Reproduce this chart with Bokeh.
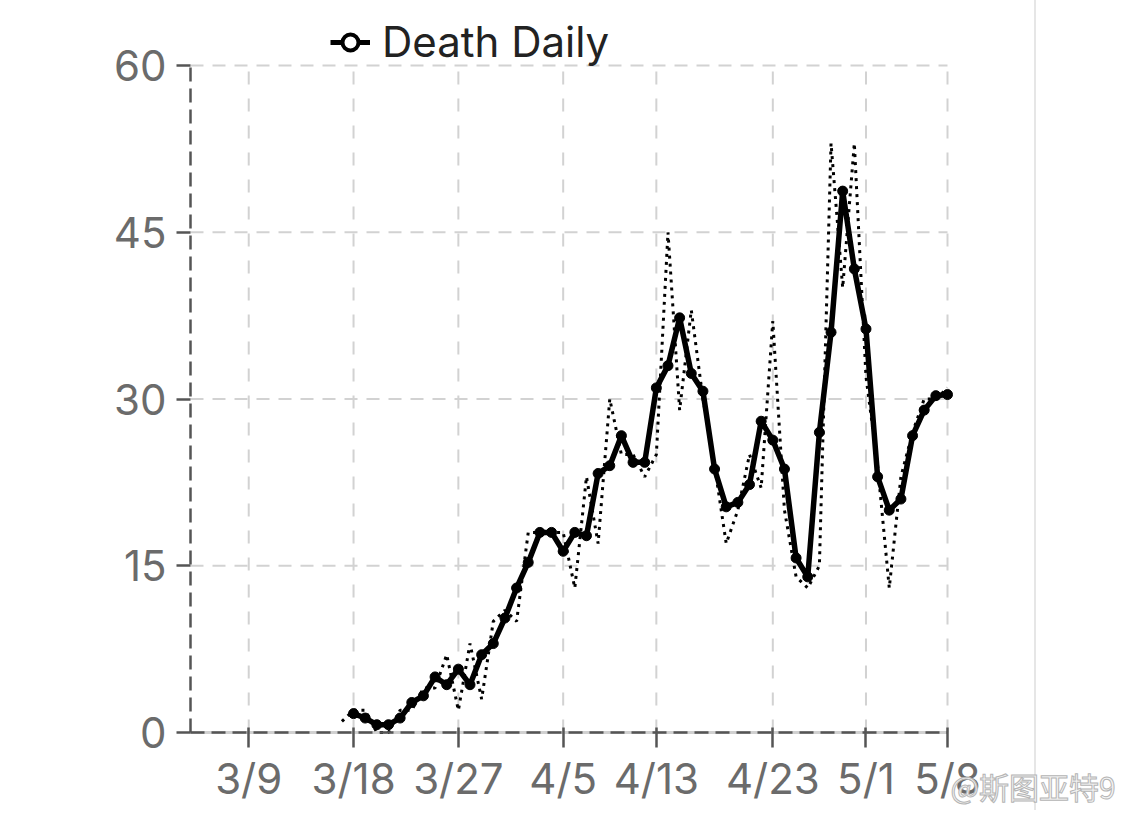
import pandas as pd
from bokeh.plotting import figure
from bokeh.models import (Range1d, FixedTicker, CustomJSTickFormatter, Legend,
                          LegendItem, Label, ColumnDataSource)
from bokeh.embed import file_html
from bokeh.resources import INLINE

# smoothed daily deaths (3-day centred average), one value per day from 3/18
avg_start = "2020-03-18"
death_avg = [1.7, 1.3, 0.7, 0.7, 1.3, 2.7, 3.3, 5.0, 4.3, 5.7, 4.3, 7.0, 8.0, 10.3,
             13.0, 15.3, 18.0, 18.0, 16.3, 18.0, 17.7, 23.3, 24.0, 26.7, 24.3, 24.3,
             31.0, 33.0, 37.3, 32.3, 30.7, 23.7, 20.3, 20.7, 22.3, 28.0, 26.3, 23.7,
             15.7, 14.0, 27.0, 36.0, 48.7, 41.7, 36.3,
             23.0, 20.0, 21.0, 26.7, 29.0, 30.3, 30.4]

# raw daily deaths (dotted), one value per day from 3/17
raw_start = "2020-03-17"
death_raw = [1, 2, 2, 0, 0, 2, 2, 4, 4, 7, 2, 8, 3, 10, 11,
             10, 18, 18, 18, 18, 13, 23, 17, 30, 25, 25, 23, 25, 45, 29, 38, 30,
             24, 17, 20, 25, 22, 37, 20, 14, 13, 15, 53, 40, 53,
             32, 24, 13, 23, 27, 30, 30, 31]

tick_dates = ["2020-03-09", "2020-03-18", "2020-03-27", "2020-04-05",
              "2020-04-13", "2020-04-23", "2020-05-01", "2020-05-08"]
y_ticks = [0, 15, 30, 45, 60]

avg_dates = pd.date_range(avg_start, periods=len(death_avg), freq="D")
raw_dates = pd.date_range(raw_start, periods=len(death_raw), freq="D")
tick_ms = [pd.Timestamp(d).value // 10**6 for d in tick_dates]

FONT = "Inter"
GRID = "#d2d2d2"
AXIS = "#555555"

# the frame fills the canvas; the chart area sits inside it with fixed axes
W, H = 1117, 810
LEFT, RIGHT, TOP, BOTTOM = 190, 170, 65, 78
x_lo, x_hi = pd.Timestamp("2020-03-04"), pd.Timestamp("2020-05-08")
y_lo, y_hi = 0, 60
day_px = (W - LEFT - RIGHT) / ((x_hi - x_lo) / pd.Timedelta(days=1))
val_px = (H - TOP - BOTTOM) / (y_hi - y_lo)
x_range = Range1d(x_lo - pd.Timedelta(days=LEFT / day_px), x_hi + pd.Timedelta(days=RIGHT / day_px))
y_range = Range1d(y_lo - BOTTOM / val_px, y_hi + TOP / val_px)
x_lo_ms, x_hi_ms = x_lo.value // 10**6, x_hi.value // 10**6

p = figure(width=W, height=H, x_axis_type="datetime", x_range=x_range, y_range=y_range,
           output_backend="svg", toolbar_location=None,
           min_border=0, min_border_left=0, min_border_right=0,
           min_border_top=0, min_border_bottom=0)
p.outline_line_color = None
p.background_fill_alpha = 0
p.border_fill_color = None
p.styles = {"background-image": "linear-gradient(90deg, transparent 1034px, #e6e6e6 1034px, "
                                "#e6e6e6 1036px, transparent 1036px)"}
p.xgrid.visible = False
p.ygrid.visible = False

p.xaxis.ticker = FixedTicker(ticks=tick_ms)
p.xaxis.formatter = CustomJSTickFormatter(code="""
    const d = new Date(tick);
    return (d.getUTCMonth() + 1) + "/" + d.getUTCDate();
""")
p.yaxis.ticker = FixedTicker(ticks=y_ticks)
p.xaxis.fixed_location = y_lo
p.yaxis.fixed_location = x_lo_ms
p.xaxis.bounds = (x_lo_ms, x_hi_ms)
p.yaxis.bounds = (y_lo, y_hi)

for ax in (p.xaxis, p.yaxis):
    ax.axis_line_color = AXIS
    ax.axis_line_width = 2.5
    ax.axis_line_dash = "14 7"
    ax.major_tick_line_color = AXIS
    ax.major_tick_line_width = 2.5
    ax.minor_tick_line_color = None
    ax.major_label_text_font = FONT
    ax.major_label_text_font_size = "42px"
    ax.major_label_text_color = "#6b6b6b"
p.xaxis.major_tick_in = 5
p.xaxis.major_tick_out = 15
p.xaxis.major_label_standoff = 5
p.yaxis.major_tick_in = 0
p.yaxis.major_tick_out = 14
p.yaxis.major_label_standoff = 10

# grid lines limited to the chart area
vgrid = ColumnDataSource(dict(x=tick_ms, y0=[y_lo] * len(tick_ms), y1=[y_hi] * len(tick_ms)))
p.segment(x0="x", y0="y0", x1="x", y1="y1", source=vgrid,
          line_color=GRID, line_width=2, line_dash="13 14")
hgrid = ColumnDataSource(dict(y=y_ticks[1:], x0=[x_lo_ms] * 4, x1=[x_hi_ms] * 4))
p.segment(x0="x0", y0="y", x1="x1", y1="y", source=hgrid,
          line_color=GRID, line_width=2, line_dash="13 9")
p.segment(x0=[x_lo_ms], y0=[y_lo], x1=[x_hi_ms], y1=[y_lo], line_color="#d0d0d0", line_width=3)

p.line(raw_dates, death_raw, line_color="black", line_width=3, line_dash="3 5")
p.line(avg_dates, death_avg, line_color="black", line_width=5.5, line_join="round")
p.scatter(avg_dates, death_avg, size=10, color="black")

# legend sample: line with open circle; the sample renderers stay muted (invisible)
first = ColumnDataSource(dict(x=avg_dates[:1], y=death_avg[:1]))
leg_line = p.line("x", "y", source=first, line_color="black", line_width=5, muted_alpha=0)
leg_dot = p.scatter("x", "y", source=first, size=15, fill_color="white",
                    line_color="black", line_width=4, muted_alpha=0)
leg_line.muted = True
leg_dot.muted = True
legend = Legend(items=[LegendItem(label="Death Daily", renderers=[leg_line, leg_dot])],
                location=(330, H - 67), padding=0, margin=0, glyph_width=40, glyph_height=40,
                label_standoff=12, label_text_font=FONT, label_text_font_size="42px",
                label_text_color="#222222", background_fill_alpha=0, border_line_color=None,
                inactive_fill_alpha=0)
p.add_layout(legend)

p.add_layout(Label(x=950, y=3, x_units="screen", y_units="screen", text="@斯图亚特9",
                   text_font="Noto Sans CJK SC", text_font_size="30px",
                   text_baseline="bottom", text_color="#f4f4f4",
                   text_outline_color="#b5b5b5"))

open("out.html", "w").write(file_html(p, INLINE))
